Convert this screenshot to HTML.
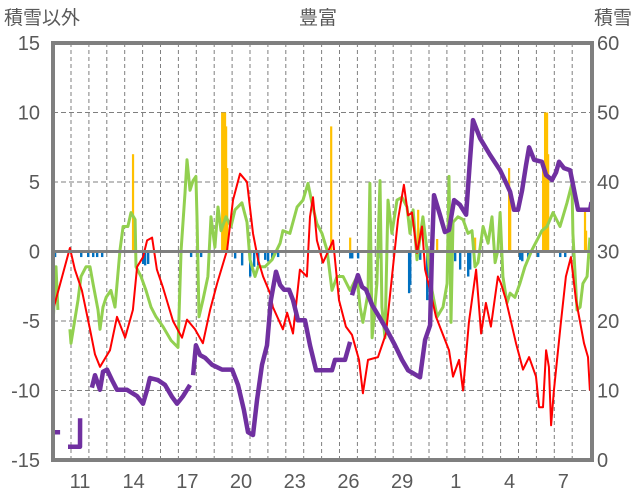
<!DOCTYPE html>
<html><head><meta charset="utf-8">
<style>
html,body{margin:0;padding:0;background:#fff;}
svg{display:block;font-family:"Liberation Sans","Noto Sans CJK JP",sans-serif;}
</style></head>
<body>
<svg id="chart" width="636" height="501" viewBox="0 0 636 501" xmlns="http://www.w3.org/2000/svg">
<text x="4" y="24" font-size="19" fill="#595959">積雪以外</text>
<text x="318" y="24" font-size="19" fill="#595959" text-anchor="middle">豊富</text>
<text x="632" y="24" font-size="19" fill="#595959" text-anchor="end">積雪</text>
<g id="grid"></g>
<g id="bars"></g>
<g id="lines"></g>
<g id="frame"></g>
<g id="ticks"></g>
</svg>
<script>
// ---- data ----
const redT=[10.0,10.94,11.22,11.61,12.06,12.34,12.62,12.9,13.18,13.57,14.02,14.46,14.69,15.02,15.25,15.53,15.8,16.14,16.7,17.2,17.48,17.93,18.37,18.77,19.16,19.72,20.05,20.44,20.83,21.17,21.45,21.73,22.12,22.28,22.84,23.07,23.4,23.79,24.18,24.35,24.52,24.74,25.08,25.64,25.97,26.36,26.7,27.09,27.31,27.59,28.15,28.6,28.99,29.27,29.6,29.83,30.05,30.33,30.61,30.78,31.06,31.39,32.12,32.34,32.68,32.9,33.23,33.63,33.91,34.18,34.46,34.85,35.02,35.3,35.86,36.25,36.59,36.98,37.15,37.37,37.54,37.7,37.82,37.98,38.37,38.65,38.93,39.21,39.66,39.88,39.99];
const redV=[-4.2,0.25,-1.3,-2.8,-5.6,-7.4,-8.3,-7.7,-7.1,-4.7,-6.2,-4.2,-1.1,-0.4,0.8,1.0,-1.3,-2.6,-5.0,-6.2,-4.9,-5.6,-6.6,-4.2,-2.3,0.1,3.7,5.6,5.0,1.3,-0.6,-1.8,-3.0,-4.0,-5.6,-4.4,-5.9,-1.3,-1.8,2.5,3.9,0.8,-0.8,0.8,-3.5,-5.4,-6.0,-7.8,-10.2,-7.8,-7.6,-5.9,-1.1,2.3,4.8,2.6,2.8,-0.1,1.8,-1.3,-2.8,-4.7,-7.1,-9.0,-7.8,-10.0,-5.1,-1.3,-5.9,-3.7,-5.4,-1.8,-2.3,-3.5,-6.6,-8.5,-7.6,-9.0,-11.2,-11.2,-7.1,-8.3,-12.5,-10.0,-5.1,-1.8,-0.4,-3.5,-6.6,-7.6,-10.0];
const greenT=[10.0,10.16,10.27,null,10.94,11.0,11.39,11.56,11.84,12.06,12.23,12.51,12.62,12.79,12.96,13.23,13.46,13.74,13.91,14.18,14.35,14.58,14.63,14.91,15.19,15.47,15.75,16.14,16.59,16.98,17.15,17.37,17.48,17.65,17.82,17.98,18.04,18.15,18.37,18.65,18.82,19.04,19.21,19.38,19.66,19.94,20.16,20.55,20.83,21.0,21.28,21.45,21.84,22.23,22.68,22.84,23.23,23.63,23.96,24.24,24.46,24.74,25.02,25.3,25.58,25.86,26.2,26.59,26.98,27.15,27.31,27.59,27.7,27.82,28.09,28.26,28.37,28.54,28.71,28.93,29.21,29.49,29.77,29.94,30.11,30.33,30.66,30.94,31.17,31.45,31.78,32.01,32.12,32.23,32.34,32.62,32.9,33.18,33.4,33.57,33.74,34.02,34.3,34.52,34.69,34.85,34.97,35.13,35.36,35.53,35.8,36.08,36.36,36.75,37.03,37.31,37.59,37.93,38.32,38.71,38.99,39.04,39.27,39.44,39.6,39.83,39.99];
const greenV=[-5.1,-1.1,-4.2,null,-5.6,-6.6,-3.5,-1.8,-1.1,-1.1,-2.3,-4.2,-5.6,-4.0,-3.3,-2.8,-4.0,0.1,1.8,1.8,2.8,2.3,-1.1,-1.8,-2.8,-4.0,-4.7,-5.4,-6.4,-6.9,0.1,4.2,6.6,4.4,5.1,5.4,2.5,-4.7,-3.5,-1.8,2.5,0.3,3.2,1.5,2.5,1.8,3.0,3.5,2.1,-0.6,-1.8,-1.1,-1.1,-0.6,0.6,1.5,1.3,3.2,3.7,4.9,3.5,2.0,1.3,0.1,-2.8,-1.8,-1.8,-2.8,-1.8,-4.0,-5.1,-3.0,4.9,-6.2,-2.3,5.1,-4.0,-6.2,3.7,1.3,3.7,3.9,3.2,1.3,3.0,-0.6,2.5,-0.4,-2.8,-4.7,-4.0,-2.3,5.4,-5.1,2.1,2.5,2.3,1.3,1.5,-1.1,-0.8,1.8,0.6,2.5,-0.8,0.1,2.8,-1.8,-3.7,-3.0,-3.3,-2.3,-1.1,0.1,0.8,1.5,1.8,2.8,1.8,3.5,4.9,1.3,-4.2,-4.0,-2.3,-1.8,1.0];
const snowT=[10.0,10.39,null,10.83,11.5,11.51,null,12.17,12.34,12.62,12.79,13.01,13.29,13.57,14.13,14.69,15.02,15.25,15.41,15.86,16.25,16.64,16.92,17.26,17.65,null,17.82,17.98,18.21,18.49,18.88,19.44,20.0,20.33,20.66,20.89,21.17,21.39,21.67,21.95,22.17,22.45,22.68,22.9,23.18,23.4,23.68,24.07,24.35,24.69,25.58,25.75,26.31,26.59,null,26.7,27.03,27.26,27.48,27.82,28.26,28.65,29.1,29.49,29.83,30.5,30.78,31.06,31.17,31.28,31.61,31.89,32.12,32.4,32.73,33.07,33.29,33.46,33.85,34.41,34.97,35.3,35.53,35.75,35.97,36.2,36.42,36.59,36.87,37.31,37.54,37.87,38.1,38.26,38.54,38.88,39.16,39.33,40.0,40.08];
const snowV=[4.0,4.0,null,1.9,1.9,6.0,null,10.4,12.2,10.1,12.7,13.0,11.5,10.1,10.1,9.2,8.1,10.1,11.8,11.5,10.8,9.1,8.1,9.2,10.8,null,12.2,16.5,15.1,14.7,13.7,13.0,13.0,10.8,7.2,4.0,3.6,8.6,13.7,16.5,23.0,27.1,25.2,24.5,24.5,23.0,20.1,20.1,16.5,12.9,12.9,14.4,14.4,17.0,null,23.7,26.6,24.9,24.5,22.3,20.4,18.7,16.5,14.4,12.9,11.9,17.3,19.4,30.2,38.1,35.3,32.8,33.1,37.4,36.7,35.3,43.2,48.9,46.3,43.9,41.7,39.9,38.6,36.0,36.0,38.8,42.4,45.0,43.2,42.9,41.0,40.3,41.4,42.9,42.0,41.7,38.1,36.0,36.0,37.1];
const blueT=[10.1,11.56,11.95,12.23,12.45,12.73,15.02,15.13,15.3,17.7,18.26,20.16,20.55,21.0,21.22,21.45,21.84,22.0,22.23,22.56,26.59,26.7,27.03,28.15,29.88,29.94,30.5,30.89,31.11,32.23,32.45,32.73,33.18,33.29,36.08,36.2,36.53,37.09,38.32,38.6,39.99];
const blueV=[-0.4,-0.4,-0.4,-0.4,-0.4,-0.4,-0.9,-1.0,-0.9,-0.4,-0.4,-0.5,-1.0,-1.8,-1.1,-1.0,-0.6,-0.7,-0.6,-0.4,-0.5,-0.5,-0.5,-0.5,-3.0,-2.4,-0.6,-3.5,-0.8,-0.6,-0.7,-1.3,-1.8,-1.3,-0.6,-0.7,-0.5,-0.4,-0.4,-0.4,-0.5];
const yellowT=[14.46,14.52,19.44,19.49,19.55,19.6,19.66,19.72,25.53,26.59,30.39,31.45,33.57,35.47,35.53,37.37,37.48,37.54,37.59,37.65,39.71,39.77];
const yellowV=[7.0,2.5,10.0,10.0,8.0,10.0,9.0,6.0,9.0,1.0,3.0,0.9,1.0,6.0,4.0,6.3,10.0,10.0,10.0,7.0,3.0,1.5];
const leftTicks=[15,10,5,0,-5,-10,-15];
const rightTicks=[60,50,40,30,20,10,0];
const xTickDays=[11,14,17,20,23,26,29,32,35,38];
const xTickLabels=["11","14","17","20","23","26","29","1","4","7"];

// ---- scales ----
const PL=53,PR=592,PT=43,PB=460;
const xS=t=>71+(t-11)*17.9;
const yL=v=>251.5-v*13.9;
const yR=s=>460-s*6.95;
const NS="http://www.w3.org/2000/svg";
function mk(tag,attrs,parent){const e=document.createElementNS(NS,tag);for(const k in attrs)e.setAttribute(k,attrs[k]);parent.appendChild(e);return e;}
const grid=document.getElementById('grid'),bars=document.getElementById('bars'),lines=document.getElementById('lines'),frame=document.getElementById('frame'),ticks=document.getElementById('ticks');

for(let d=11;xS(d)<PR-2;d++){
  const g=mk('line',{x1:xS(d),x2:xS(d),y1:PT,y2:PB,stroke:'#7f7f7f','stroke-width':1,'stroke-dasharray':'4,3'},grid);
  
  
}
leftTicks.forEach(v=>{
  if(v===15||v===-15||v===0)return;
  const g=mk('line',{x1:PL,x2:PR,y1:yL(v),y2:yL(v),stroke:'#7f7f7f','stroke-width':1,'stroke-dasharray':'5,3'},grid);
  
  
});

blueT.forEach((t,i)=>{
  const y0=yL(0),y1=yL(blueV[i]);
  const r=mk('rect',{x:xS(t)-1,y:Math.min(y0,y1),width:2.4,height:Math.abs(y1-y0),fill:'#0070C0'},bars);
  
  
});
yellowT.forEach((t,i)=>{
  const y0=yL(0),y1=yL(yellowV[i]);
  const r=mk('rect',{x:xS(t)-1,y:Math.min(y0,y1),width:2.2,height:Math.abs(y1-y0),fill:'#FFC000'},bars);
  
  
});

function path(T,V,sc){let d='',pen=false;for(let i=0;i<T.length;i++){if(T[i]===null){pen=false;continue;}d+=(pen?'L':'M')+xS(T[i]).toFixed(1)+','+sc(V[i]).toFixed(1);pen=true;}return d;}
const gl=mk('path',{d:path(greenT,greenV,yL),fill:'none',stroke:'#92D050','stroke-width':3,'stroke-linejoin':'round'},lines);


const rl=mk('path',{d:path(redT,redV,yL),fill:'none',stroke:'#FF0000','stroke-width':2,'stroke-linejoin':'round'},lines);


const pl=mk('path',{d:path(snowT,snowV,yR),fill:'none',stroke:'#7030A0','stroke-width':4.5,'stroke-linejoin':'round'},lines);



const zl=mk('line',{x1:PL,x2:PR,y1:yL(0),y2:yL(0),stroke:'#7f7f7f','stroke-width':3},frame);


const fr=mk('rect',{x:PL,y:PT,width:PR-PL,height:PB-PT,fill:'none',stroke:'#7f7f7f','stroke-width':4},frame);



leftTicks.forEach(v=>{
  const t=mk('text',{x:40,y:yL(v)+7,'font-size':20,fill:'#595959','text-anchor':'end'},ticks);
  t.textContent=String(v);
  
  
});
rightTicks.forEach(s=>{
  const t=mk('text',{x:597,y:yR(s)+7,'font-size':20,fill:'#595959'},ticks);
  t.textContent=String(s);
  
  
});
xTickDays.forEach((d,i)=>{
  const t=mk('text',{x:xS(d+0.5),y:488,'font-size':20,fill:'#595959','text-anchor':'middle'},ticks);
  t.textContent=xTickLabels[i];
  
  
});
</script>
</body></html>
